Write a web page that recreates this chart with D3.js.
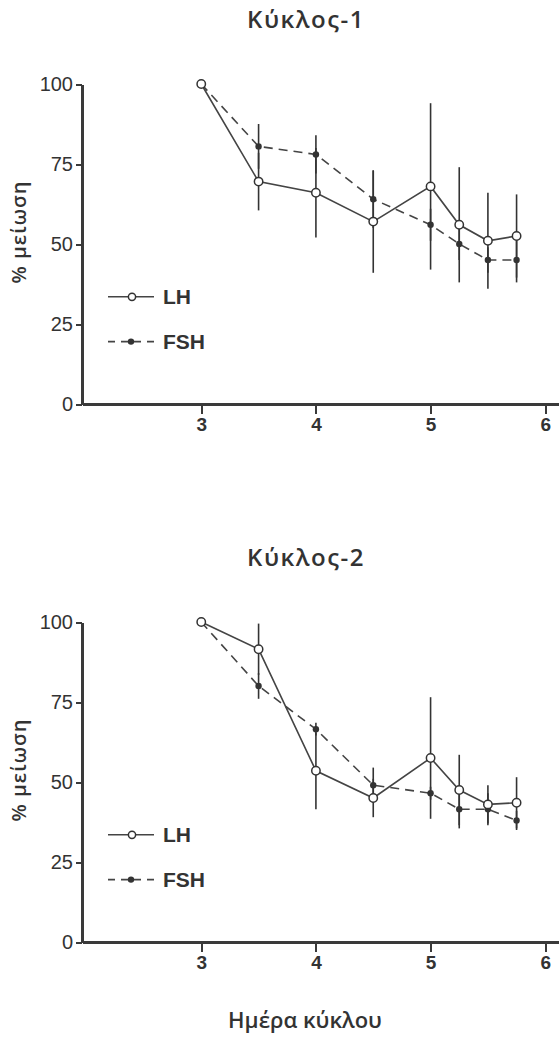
<!DOCTYPE html>
<head>
  <meta charset="utf-8">
  <title>Κύκλος</title>
  <style>
    body {margin: 0; background: #fff;}
    svg {display: block; font-family: "Liberation Sans", Arial, sans-serif;}
    .axis path, .axis line {
        stroke: #3a3a3a;
        shape-rendering: crispEdges;
    }
    .axis text {fill: #333;}
    .line {fill: none; stroke: #444; stroke-width: 1.6;}
    .err {stroke: #333; stroke-width: 1.6;}
    .label {font-family: "Open Sans", "Liberation Sans", sans-serif; font-weight: 600; fill: #333;}
  </style>
</head>
<body>
  <svg width="559" height="1037"></svg>
  <script src="https://d3js.org/d3.v7.min.js"></script>
  <script>
    // day of cycle for every measurement
    var days = [3, 3.5, 4, 4.5, 5, 5.25, 5.5, 5.75];
    var xTicks = [3, 4, 5, 6];
    var yTicks = [0, 25, 50, 75, 100];

    // Κύκλος-1
    var c1LH = [100, 69.5, 66, 57, 68, 56, 51, 52.5];
    var c1LHerr = [0, 9, 14, 16, 26, 18, 15, 13];
    var c1FSH = [100, 80.5, 78, 64, 56, 50, 45, 45];
    var c1FSHerr = [0, 7, 6, 9, 5, 5, 4, 7];

    // Κύκλος-2
    var c2LH = [100, 91.5, 53.5, 45, 57.5, 47.5, 43, 43.5];
    var c2LHerr = [0, 8, 12, 6, 19, 11, 6, 8];
    var c2FSH = [100, 80, 66.5, 49, 46.5, 41.5, 41.5, 38];
    var c2FSHerr = [0, 4, 2, 5.5, 2, 6, 5, 3];

    var panels = [
      {title: "Κύκλος-1", top: 84, lh: c1LH, lhErr: c1LHerr, fsh: c1FSH, fshErr: c1FSHerr},
      {title: "Κύκλος-2", top: 622, lh: c2LH, lhErr: c2LHerr, fsh: c2FSH, fshErr: c2FSHerr}
    ];

    var svg = d3.select("svg"),
        left = 82,
        width = 559 - left,
        height = 320;

    var x = d3.scaleLinear().domain([1.96, 6.12]).range([0, width]);
    var y = d3.scaleLinear().domain([0, 100]).range([height, 0]);

    var line = d3.line()
        .x(function(d) { return x(d.day); })
        .y(function(d) { return y(d.v); });

    panels.forEach(function(p) {
      var g = svg.append("g").attr("transform", "translate(" + left + "," + p.top + ")");

      var lh = days.map(function(d, i) { return {day: d, v: p.lh[i], e: p.lhErr[i]}; });
      var fsh = days.map(function(d, i) { return {day: d, v: p.fsh[i], e: p.fshErr[i]}; });

      // title
      svg.append("text")
          .attr("class", "label")
          .attr("x", 306)
          .attr("y", p.top - 56)
          .attr("text-anchor", "middle")
          .attr("font-size", 24)
          .attr("letter-spacing", 1.5)
          .text(p.title);

      // axes
      g.append("g")
          .attr("class", "axis")
          .attr("transform", "translate(0," + height + ")")
          .call(d3.axisBottom(x).tickValues(xTicks).tickFormat(d3.format("d"))
              .tickSize(8).tickSizeOuter(0).tickPadding(6))
          .call(function(a) {
            a.select(".domain").attr("stroke-width", 2.5);
            a.selectAll(".tick line").attr("stroke-width", 2).attr("transform", "translate(0,2)");
            a.selectAll("text").attr("font-size", 19).attr("font-weight", "bold").attr("font-family", "Liberation Sans, Arial");
          });

      g.append("g")
          .attr("class", "axis")
          .call(d3.axisLeft(y).tickValues(yTicks).tickSize(6).tickSizeOuter(0).tickPadding(3))
          .call(function(a) {
            a.select(".domain").attr("stroke-width", 2.5);
            a.selectAll(".tick line").attr("stroke-width", 2);
            a.selectAll("text").attr("font-size", 20).attr("font-family", "Liberation Sans, Arial");
          });

      // y label
      g.append("text")
          .attr("class", "label")
          .attr("transform", "translate(" + (-56) + "," + (height / 2 - 12) + ") rotate(-90)")
          .attr("text-anchor", "middle")
          .attr("font-size", 20)
          .attr("font-weight", 500)
          .attr("letter-spacing", 1)
          .text("% μείωση");

      // error bars
      g.selectAll(".errLH")
          .data(lh.filter(function(d) { return d.e > 0; }))
          .enter().append("line")
          .attr("class", "err")
          .attr("x1", function(d) { return x(d.day); })
          .attr("x2", function(d) { return x(d.day); })
          .attr("y1", function(d) { return y(d.v - d.e); })
          .attr("y2", function(d) { return y(d.v + d.e); });

      g.selectAll(".errFSH")
          .data(fsh.filter(function(d) { return d.e > 0; }))
          .enter().append("line")
          .attr("class", "err")
          .attr("x1", function(d) { return x(d.day); })
          .attr("x2", function(d) { return x(d.day); })
          .attr("y1", function(d) { return y(d.v - d.e); })
          .attr("y2", function(d) { return y(d.v + d.e); });

      // lines
      g.append("path").datum(fsh).attr("class", "line")
          .attr("stroke-dasharray", "9,6")
          .attr("d", line);
      g.append("path").datum(lh).attr("class", "line")
          .attr("d", line);

      // points
      g.selectAll(".fshPt").data(fsh).enter().append("circle")
          .attr("cx", function(d) { return x(d.day); })
          .attr("cy", function(d) { return y(d.v); })
          .attr("r", 3.2)
          .attr("fill", "#333");
      g.selectAll(".lhPt").data(lh).enter().append("circle")
          .attr("cx", function(d) { return x(d.day); })
          .attr("cy", function(d) { return y(d.v); })
          .attr("r", 4.2)
          .attr("fill", "#fff")
          .attr("stroke", "#333")
          .attr("stroke-width", 1.5);

      // legend
      var leg = g.append("g").attr("transform", "translate(26," + y(33.5) + ")");
      leg.append("line").attr("x1", 0).attr("x2", 46).attr("y1", 0).attr("y2", 0)
          .attr("stroke", "#444").attr("stroke-width", 1.6);
      leg.append("circle").attr("cx", 24).attr("cy", 0).attr("r", 3.6)
          .attr("fill", "#fff").attr("stroke", "#333").attr("stroke-width", 1.5);
      leg.append("text").attr("x", 55).attr("y", 0).attr("dy", "0.36em")
          .attr("font-size", 21).attr("font-weight", "bold").attr("fill", "#333").text("LH");

      var leg2 = g.append("g").attr("transform", "translate(26," + y(19.5) + ")");
      leg2.append("line").attr("x1", 0).attr("x2", 46).attr("y1", 0).attr("y2", 0)
          .attr("stroke", "#444").attr("stroke-width", 1.6).attr("stroke-dasharray", "7,6");
      leg2.append("circle").attr("cx", 23).attr("cy", 0).attr("r", 3.2).attr("fill", "#333");
      leg2.append("text").attr("x", 55).attr("y", 0).attr("dy", "0.36em")
          .attr("font-size", 21).attr("font-weight", "bold").attr("fill", "#333").text("FSH");
    });

    // x axis title
    svg.append("text")
        .attr("class", "label")
        .attr("x", 305)
        .attr("y", 1028)
        .attr("text-anchor", "middle")
        .attr("font-size", 22)
        .text("Ημέρα κύκλου");
  </script>
</body>
